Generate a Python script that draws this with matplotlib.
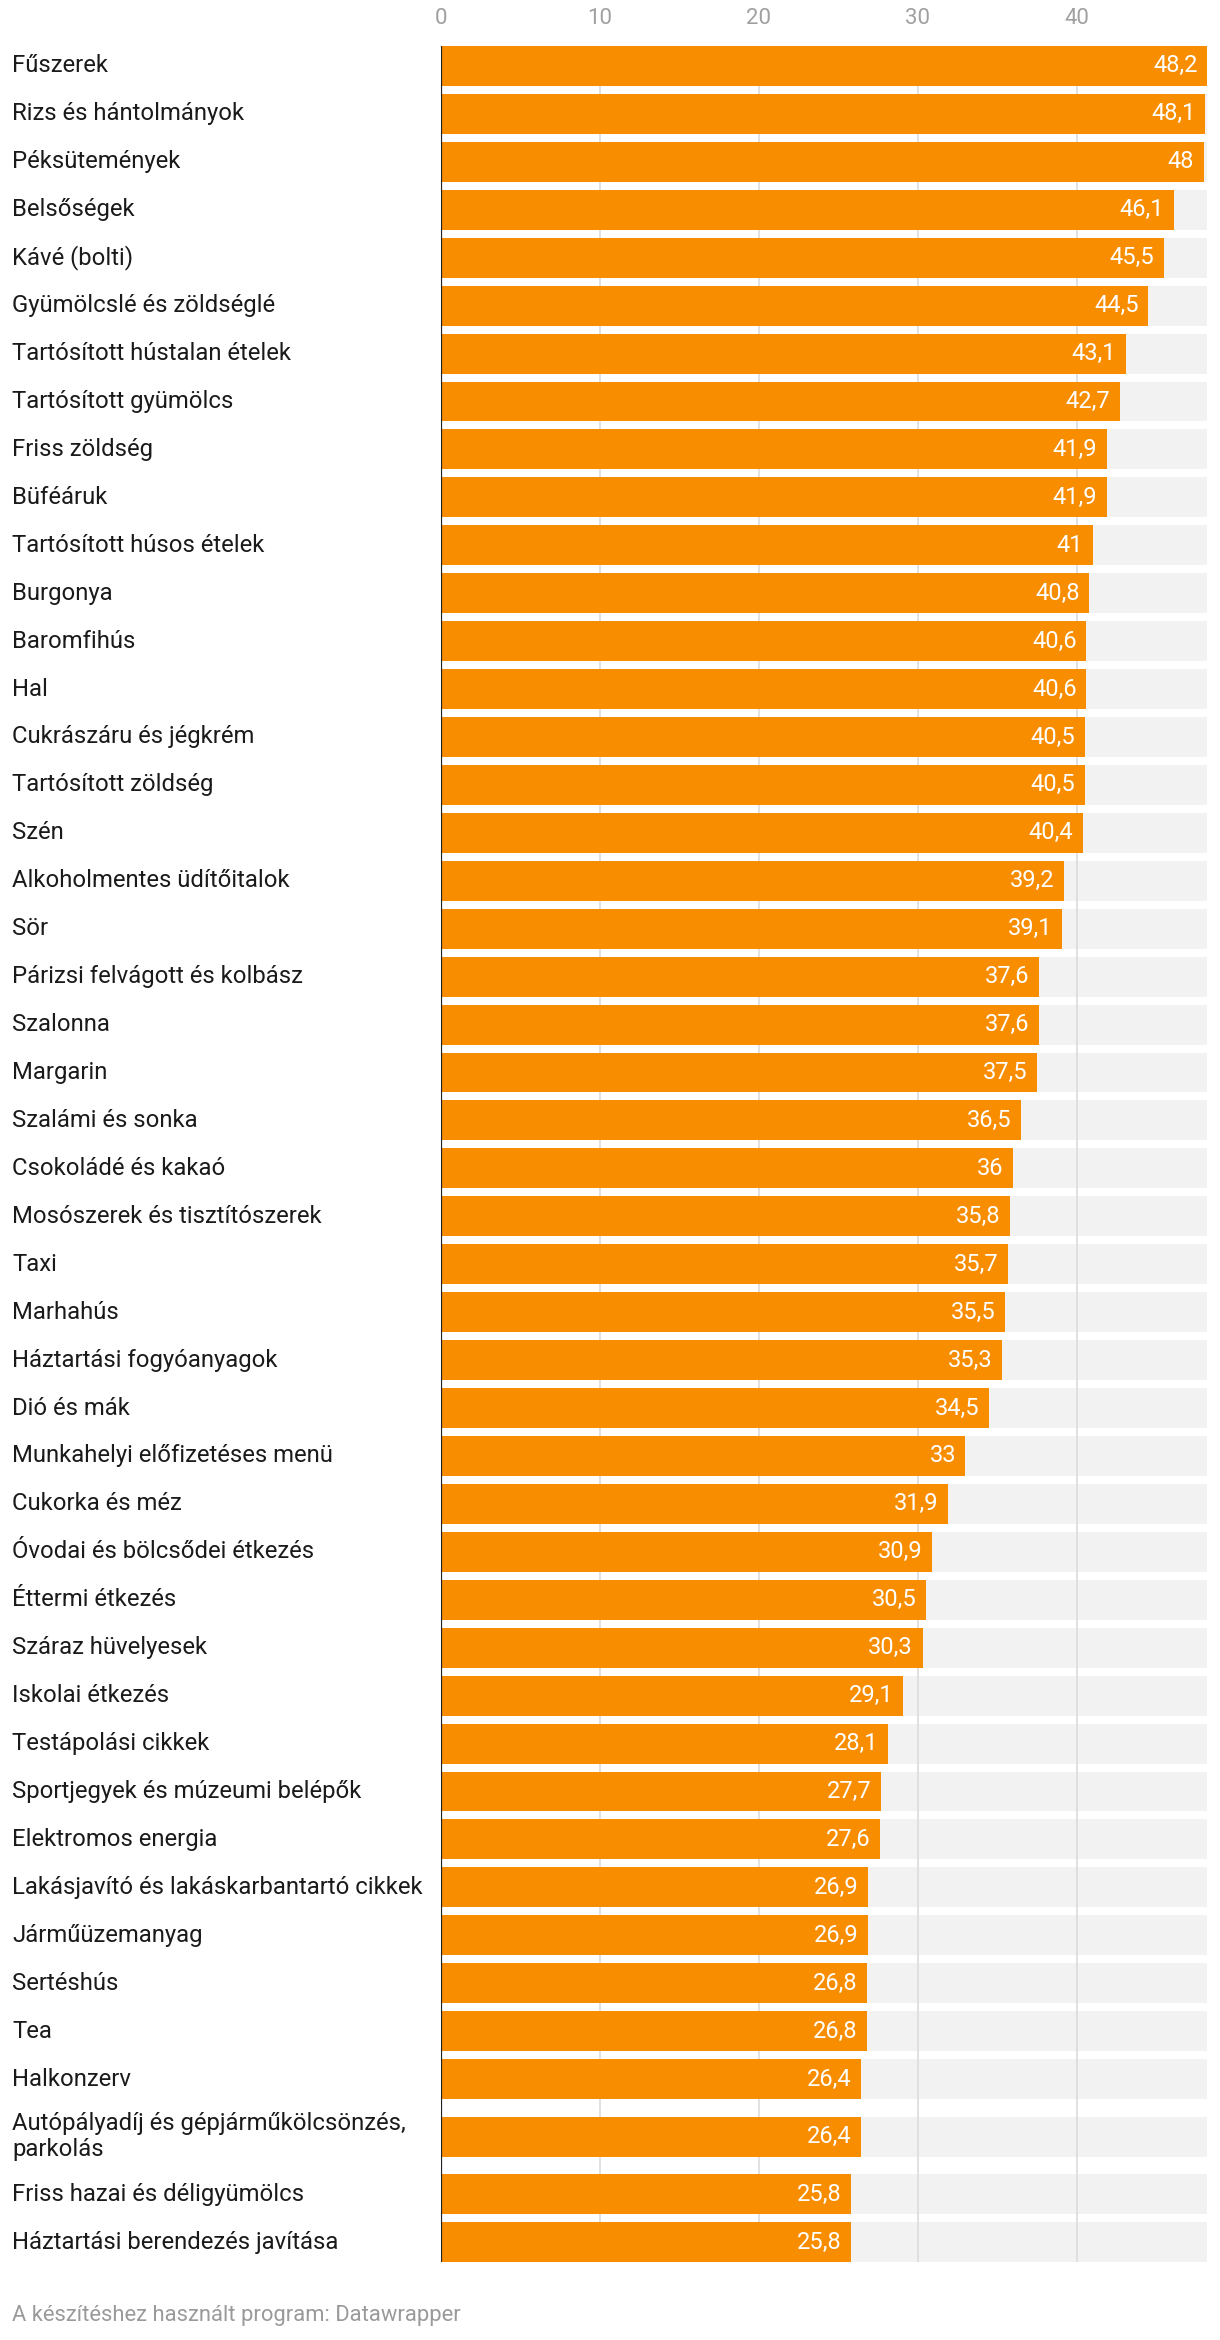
import matplotlib
matplotlib.use('Agg')
from matplotlib import pyplot as plt
from matplotlib import transforms

plt.rcParams['font.family'] = ['Roboto', 'DejaVu Sans']

labels = [
    'Fűszerek', 'Rizs és hántolmányok', 'Péksütemények', 'Belsőségek',
    'Kávé (bolti)', 'Gyümölcslé és zöldséglé', 'Tartósított hústalan ételek',
    'Tartósított gyümölcs', 'Friss zöldség', 'Büféáruk',
    'Tartósított húsos ételek', 'Burgonya', 'Baromfihús', 'Hal',
    'Cukrászáru és jégkrém', 'Tartósított zöldség', 'Szén',
    'Alkoholmentes üdítőitalok', 'Sör', 'Párizsi felvágott és kolbász',
    'Szalonna', 'Margarin', 'Szalámi és sonka', 'Csokoládé és kakaó',
    'Mosószerek és tisztítószerek', 'Taxi', 'Marhahús',
    'Háztartási fogyóanyagok', 'Dió és mák', 'Munkahelyi előfizetéses menü',
    'Cukorka és méz', 'Óvodai és bölcsődei étkezés', 'Éttermi étkezés',
    'Száraz hüvelyesek', 'Iskolai étkezés', 'Testápolási cikkek',
    'Sportjegyek és múzeumi belépők', 'Elektromos energia',
    'Lakásjavító és lakáskarbantartó cikkek', 'Járműüzemanyag', 'Sertéshús',
    'Tea', 'Halkonzerv', 'Autópályadíj és gépjárműkölcsönzés,\nparkolás',
    'Friss hazai és déligyümölcs', 'Háztartási berendezés javítása',
]
values = [
    48.2, 48.1, 48, 46.1, 45.5, 44.5, 43.1, 42.7, 41.9, 41.9,
    41, 40.8, 40.6, 40.6, 40.5, 40.5, 40.4, 39.2, 39.1, 37.6,
    37.6, 37.5, 36.5, 36, 35.8, 35.7, 35.5, 35.3, 34.5, 33,
    31.9, 30.9, 30.5, 30.3, 29.1, 28.1, 27.7, 27.6, 26.9, 26.9,
    26.8, 26.8, 26.4, 26.4, 25.8, 25.8,
]
ticks = [0, 10, 20, 30, 40]

orange = '#f98d00'
W, H = 1220, 2340

# row positions, two-line labels get a bit more room
pos = []
y = 0.0
for lab in labels:
    extra = 0.2 * lab.count('\n')
    y += extra
    pos.append(y)
    y += 1 + extra

bh = 0.833
fig = plt.figure(figsize=(W / 100, H / 100), dpi=100)
ax = fig.add_axes([441 / W, 1 - 2262 / H, (1207 - 441) / W, (2262 - 46) / H])

xmax = max(values)
ax.barh(pos, [xmax] * len(values), height=bh, color='#f2f2f2', zorder=1)
for t in ticks[1:]:
    ax.axvline(t, color='#dedede', lw=1.3, zorder=1.5)
ax.barh(pos, values, height=bh, color=orange, zorder=2)
ax.axvline(0, color='#222222', lw=1.6, zorder=3)

for p, v in zip(pos, values):
    s = ('%g' % v).replace('.', ',')
    ax.text(v - 0.6, p, s, color='white', fontsize=17, ha='right', va='center', zorder=4)

tr = transforms.blended_transform_factory(fig.transFigure, ax.transData)
for p, lab in zip(pos, labels):
    ax.text(12 / W, p, lab, transform=tr, fontsize=17.2, color='#1a1a1a',
            ha='left', va='center', linespacing=1.2)

ax.set_xlim(0, xmax)
ax.set_ylim(pos[-1] + bh / 2, pos[0] - bh / 2)
ax.xaxis.tick_top()
ax.set_xticks(ticks)
ax.set_xticklabels([str(t) for t in ticks])
ax.tick_params(axis='x', length=0, pad=12, labelsize=16, labelcolor='#a0a0a0')
ax.set_yticks([])
for sp in ax.spines.values():
    sp.set_visible(False)

fig.text(12 / W, 1 - 2315 / H, 'A készítéshez használt program: Datawrapper',
         fontsize=15.8, color='#9a9a9a', ha='left', va='center')

fig.savefig('out.png', dpi=100, facecolor='white')
